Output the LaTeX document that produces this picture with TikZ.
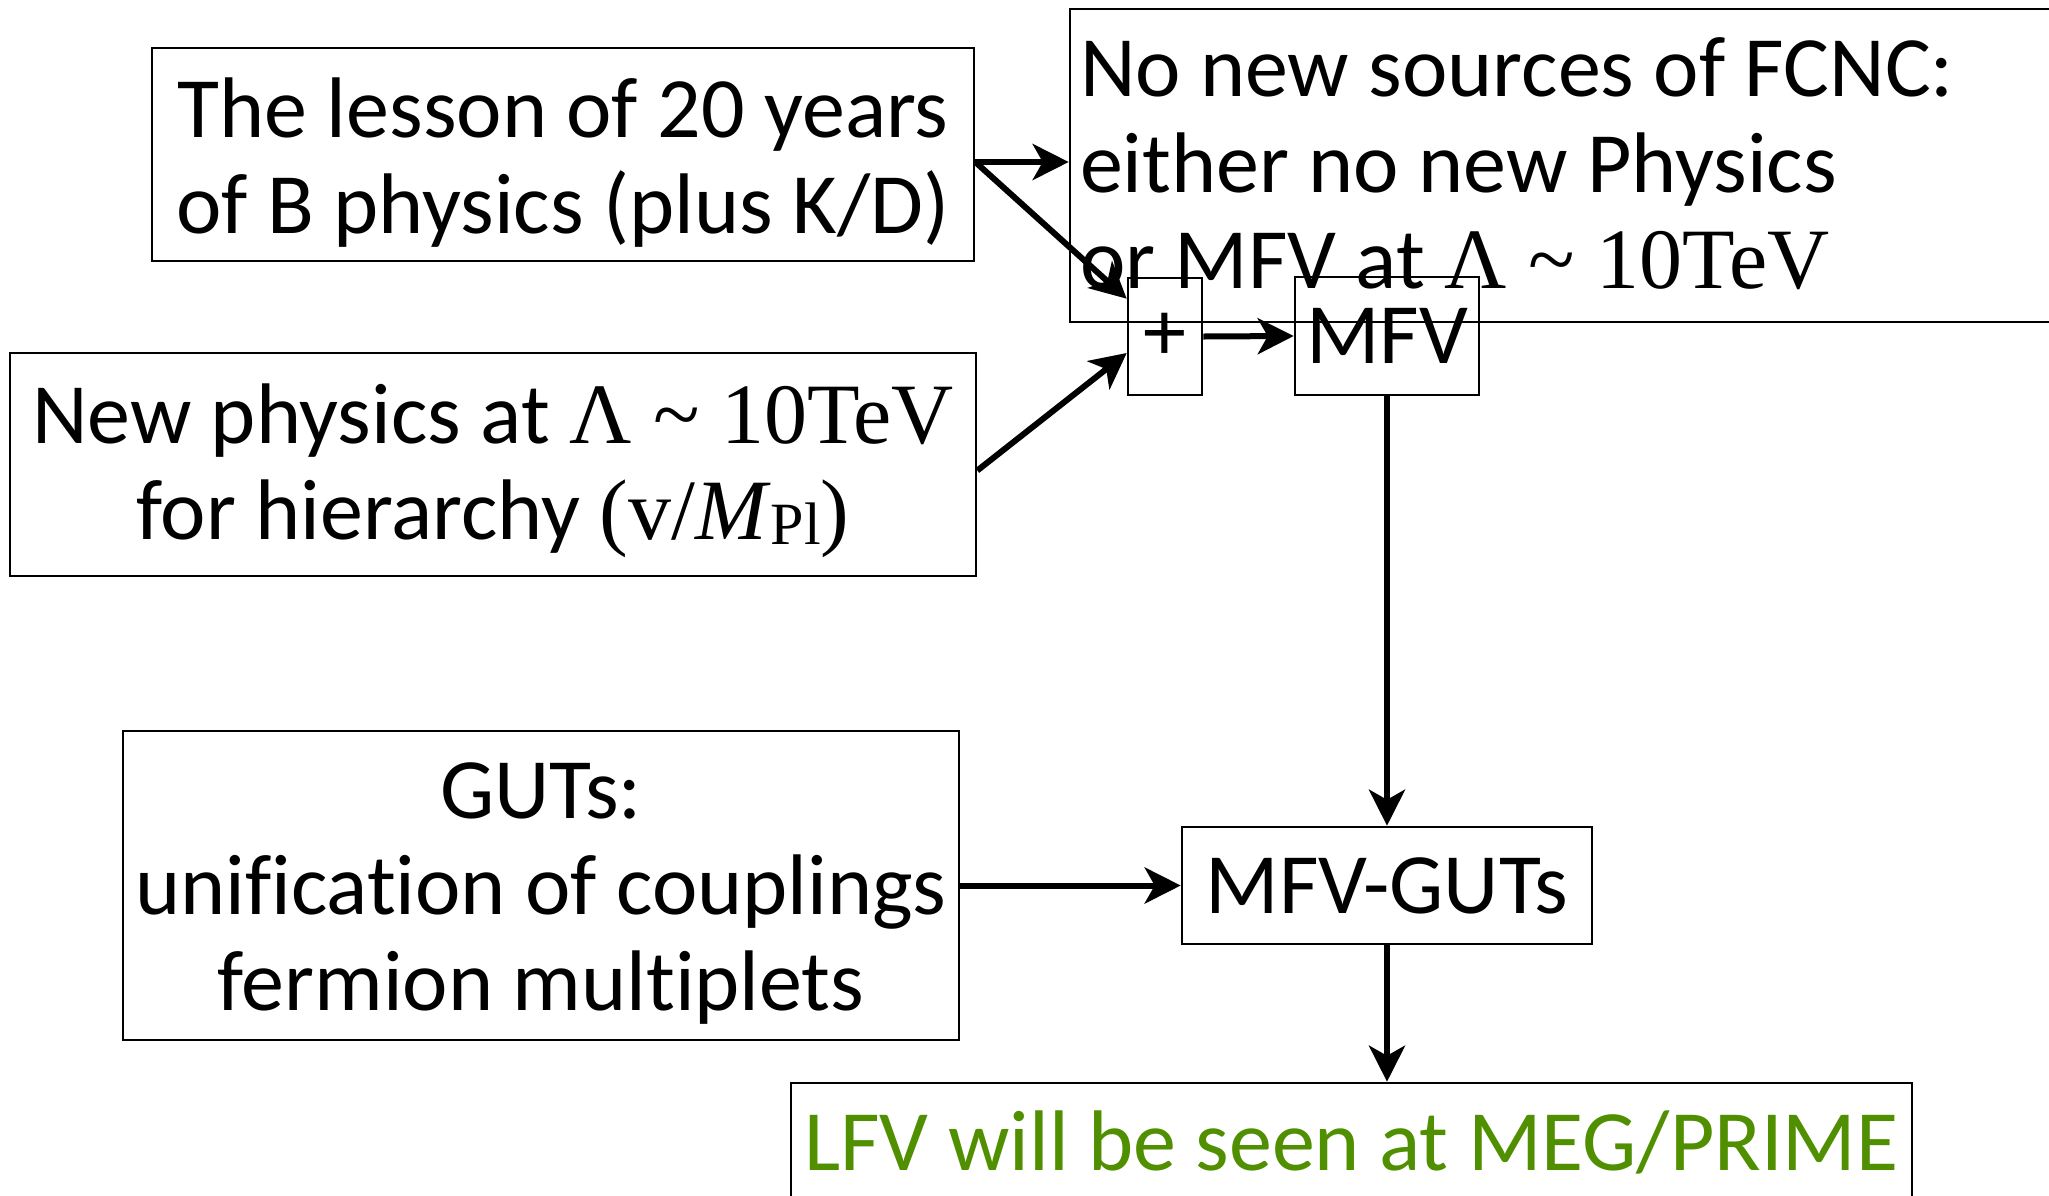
\documentclass[tikz,border=0pt]{standalone}
\usepackage{fontspec}
\setmainfont{Carlito}[Ligatures=NoCommon]
\newfontfamily\tmsfont{Liberation Serif}
\usetikzlibrary{arrows.meta}
\definecolor{lfvgreen}{RGB}{79,143,0}
\newcommand\mytop[1]{\rule{0pt}{#1}}
\newcommand\mybot[1]{\rule[-#1]{0pt}{#1}}
\tikzset{
  box/.style={draw=black, line width=1.3pt, inner sep=0pt, align=center,
    font=\fontsize{43pt}{48pt}\selectfont},
  conn/.style={line width=3pt, -{Stealth[length=18pt,width=18pt,inset=5pt]}},
}
\begin{document}
\begin{tikzpicture}[x=0.5pt,y=-0.5pt]
\useasboundingbox (0,0) rectangle (2049,1195);
\fill[white] (0,0) rectangle (2049,1195);
\clip (0,0) rectangle (2049,1195);

\node[box, minimum width=520pt, minimum height=156.5pt, text width=510pt,
      inner xsep=5pt, align=flush left] (fcnc) at (1590,165.5)
  {\mytop{38.5pt}No new sources of FCNC:\\
   either no new Physics\\
   or MFV at {\tmsfont Λ \textasciitilde\ 10TeV}\mybot{12pt}};

\node[box, minimum width=411pt, minimum height=106.5pt] (lesson) at (563,154.5)
  {\mytop{42.5pt}The lesson of 20 years\\
   of B physics (plus K/D)\mybot{12pt}};

\node[box, minimum width=483pt, minimum height=111.5pt] (newphys) at (493,464.5)
  {\mytop{38.5pt}New physics at {\tmsfont Λ \textasciitilde\ 10TeV}\\
   for hierarchy {\tmsfont (v/\textit{M}\raisebox{-0.06em}{\fontsize{30pt}{30pt}\selectfont Pl})}\mybot{12pt}};

\node[box, minimum width=418pt, minimum height=154.5pt] (guts) at (541,885.5)
  {\mytop{40.5pt}GUTs:\\
   unification of couplings\\
   fermion multiplets\mybot{12pt}};

\node[box, minimum width=37pt, minimum height=58.5pt] (plus) at (1165,336.5) {+};
\node[box, minimum width=92pt, minimum height=59pt] (mfv) at (1387,336) {MFV};
\node[box, minimum width=205pt, minimum height=58.5pt] (mfvguts) at (1387,885.5) {MFV-GUTs};
\node[box, minimum width=560.5pt, minimum height=83.5pt, text=lfvgreen] (lfv) at (1351.5,1166.5)
  {\mytop{36pt}LFV will be seen at MEG/PRIME\mybot{32.5pt}};

\draw[conn] ([yshift=-3.75pt]lesson.east) -- ([yshift=-3.75pt]lesson.east -| fcnc.west);
\draw[conn] ([yshift=-3.75pt]lesson.east) -- ([yshift=-11pt]plus.north west);
\draw[conn] ([yshift=-3pt]newphys.east) -- ([yshift=-8.25pt]plus.west);
\draw[conn] (plus.east) -- (mfv.west);
\draw[conn] (mfv.south) -- (mfvguts.north);
\draw[conn] (guts.east |- mfvguts.west) -- (mfvguts.west);
\draw[conn] (mfvguts.south) -- (mfvguts.south |- lfv.north);
\end{tikzpicture}
\end{document}
